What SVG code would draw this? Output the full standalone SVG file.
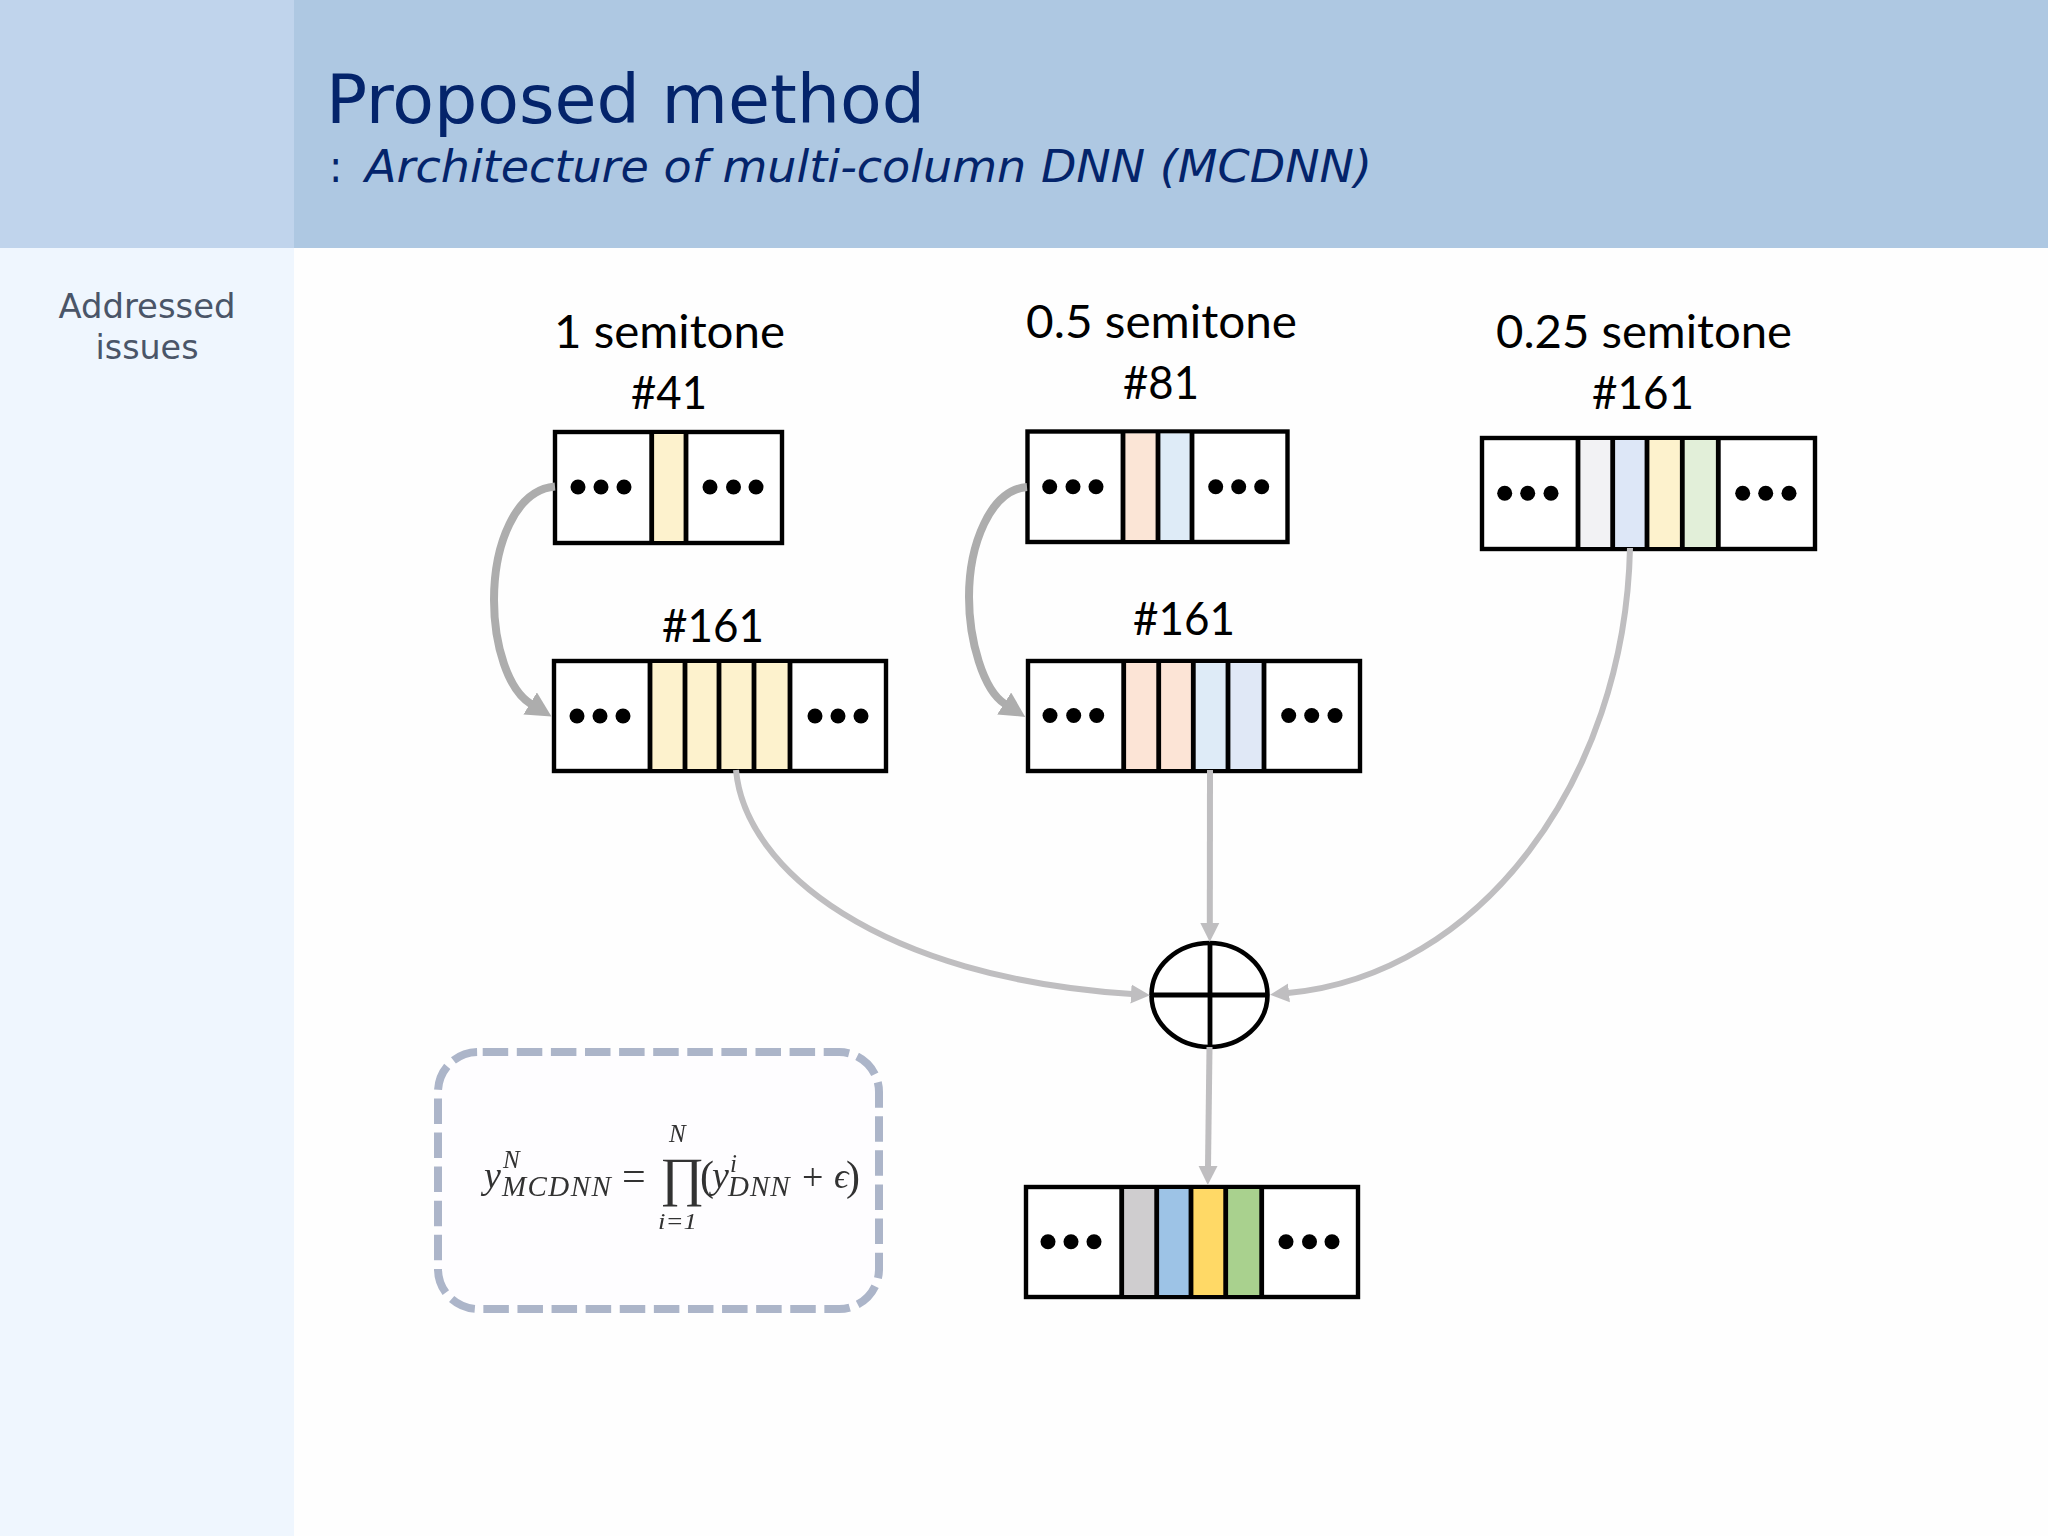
<svg xmlns="http://www.w3.org/2000/svg" width="2048" height="1536" viewBox="0 0 2048 1536">
<style>
.lbl{font-family:"Lato","Liberation Sans",sans-serif;font-size:46px;fill:#000}
.box{fill:#fff;stroke:#000;stroke-width:4.4}
.div{stroke:#000;stroke-width:4.8;fill:none}
.dot{fill:#000}
.thick{fill:none;stroke:#adadad;stroke-width:8}
.thin{fill:none;stroke:#bfbec0;stroke-width:6}
.m{font-family:"Liberation Serif",serif;font-style:italic;fill:#333}
.mr{font-family:"Liberation Serif",serif;font-style:normal;fill:#333}
</style>
<defs>
<marker id="hThick" markerUnits="userSpaceOnUse" markerWidth="26" markerHeight="26" refX="1" refY="13" orient="auto"><path d="M0,0L25,13L0,26Z" fill="#adadad"/></marker>
<marker id="hThin" markerUnits="userSpaceOnUse" markerWidth="20" markerHeight="20" refX="1" refY="10" orient="auto"><path d="M0,0.5L19,10L0,19.5Z" fill="#bfbec0"/></marker>
<filter id="soft" x="-5%" y="-5%" width="110%" height="110%"><feGaussianBlur stdDeviation="0.7"/></filter>
</defs>
<g id="background">
<rect width="2048" height="1536" fill="#fefefe"/>
<rect x="0" y="248" width="294" height="1288" fill="#eff6fe"/>
<rect x="0" y="0" width="294" height="248" fill="#c0d4ec"/>
<rect x="294" y="0" width="1754" height="248" fill="#aec8e2"/>
</g>
<g id="title" fill="#04246b" font-family="'DejaVu Sans',sans-serif" style="font-stretch:condensed">
<text x="326" y="123" font-size="68" textLength="599" lengthAdjust="spacingAndGlyphs">Proposed method</text>
<text x="329" y="182" font-size="44">:</text>
<text x="365" y="182" font-size="44" font-style="italic" textLength="1007" lengthAdjust="spacingAndGlyphs">Architecture of multi-column DNN (MCDNN)</text>
</g>
<g id="sidebar" fill="#4a5568" font-family="'DejaVu Sans',sans-serif" font-size="34" text-anchor="middle" style="font-stretch:condensed">
<text x="147" y="318" textLength="177" lengthAdjust="spacingAndGlyphs">Addressed</text>
<text x="147" y="359" textLength="103" lengthAdjust="spacingAndGlyphs">issues</text>
</g>
<g id="labels" class="lbl" text-anchor="middle">
<text class="lbl" x="669.5" y="348" textLength="231" lengthAdjust="spacingAndGlyphs">1 semitone</text>
<text class="lbl" x="669" y="409" textLength="76" lengthAdjust="spacingAndGlyphs">#41</text>
<text class="lbl" x="713" y="642" textLength="102" lengthAdjust="spacingAndGlyphs">#161</text>
<text class="lbl" x="1161.5" y="338" textLength="271" lengthAdjust="spacingAndGlyphs">0.5 semitone</text>
<text class="lbl" x="1161" y="399" textLength="76" lengthAdjust="spacingAndGlyphs">#81</text>
<text class="lbl" x="1184" y="635" textLength="102" lengthAdjust="spacingAndGlyphs">#161</text>
<text class="lbl" x="1644" y="348" textLength="296" lengthAdjust="spacingAndGlyphs">0.25 semitone</text>
<text class="lbl" x="1643" y="409" textLength="102" lengthAdjust="spacingAndGlyphs">#161</text>
</g>
<g id="node-41">
<rect class="box" x="555" y="432" width="227" height="111"/>
<rect x="652" y="434" width="34" height="107" fill="#fdf2cd"/>
<path class="div" d="M651.7,432V543M686,432V543"/>
<circle class="dot" cx="578" cy="487" r="7.5"/><circle class="dot" cx="601" cy="487" r="7.5"/><circle class="dot" cx="624" cy="487" r="7.5"/>
<circle class="dot" cx="710" cy="487" r="7.5"/><circle class="dot" cx="733.5" cy="487" r="7.5"/><circle class="dot" cx="756" cy="487" r="7.5"/>
</g>
<g id="node-161-a">
<rect class="box" x="554" y="661" width="332" height="110"/>
<rect x="650" y="663" width="140" height="106" fill="#fdf2cd"/>
<path class="div" d="M650,661V771M685,661V771M719,661V771M754,661V771M790,661V771"/>
<circle class="dot" cx="577" cy="716" r="7.5"/><circle class="dot" cx="600" cy="716" r="7.5"/><circle class="dot" cx="623" cy="716" r="7.5"/>
<circle class="dot" cx="815" cy="716" r="7.5"/><circle class="dot" cx="838" cy="716" r="7.5"/><circle class="dot" cx="861" cy="716" r="7.5"/>
</g>
<g id="node-81">
<rect class="box" x="1027.5" y="431.5" width="260" height="110.5"/>
<rect x="1123" y="433.5" width="35" height="106.5" fill="#fbe5d6"/>
<rect x="1158" y="433.5" width="34" height="106.5" fill="#deebf7"/>
<path class="div" d="M1123,431.5V542M1158,431.5V542M1192,431.5V542"/>
<circle class="dot" cx="1049.7" cy="486.7" r="7.5"/><circle class="dot" cx="1073" cy="486.7" r="7.5"/><circle class="dot" cx="1096" cy="486.7" r="7.5"/>
<circle class="dot" cx="1215.7" cy="486.7" r="7.5"/><circle class="dot" cx="1238.7" cy="486.7" r="7.5"/><circle class="dot" cx="1261.7" cy="486.7" r="7.5"/>
</g>
<g id="node-161-b">
<rect class="box" x="1028" y="661" width="332" height="110"/>
<rect x="1124" y="663" width="69" height="106" fill="#fce4d6"/>
<rect x="1193" y="663" width="35" height="106" fill="#deebf7"/>
<rect x="1228" y="663" width="36" height="106" fill="#e0e8f6"/>
<path class="div" d="M1123.7,661V771M1158.7,661V771M1193.3,661V771M1228,661V771M1264,661V771"/>
<circle class="dot" cx="1050" cy="715.5" r="7.5"/><circle class="dot" cx="1073.7" cy="715.5" r="7.5"/><circle class="dot" cx="1096.7" cy="715.5" r="7.5"/>
<circle class="dot" cx="1288.7" cy="715.5" r="7.5"/><circle class="dot" cx="1311.7" cy="715.5" r="7.5"/><circle class="dot" cx="1335" cy="715.5" r="7.5"/>
</g>
<g id="node-161-c">
<rect class="box" x="1482" y="438" width="333" height="111"/>
<rect x="1578" y="440" width="35" height="107" fill="#f2f2f4"/>
<rect x="1613" y="440" width="34" height="107" fill="#dde7f7"/>
<rect x="1647" y="440" width="35" height="107" fill="#fdf2cd"/>
<rect x="1682" y="440" width="36" height="107" fill="#e2efd9"/>
<path class="div" d="M1578,438V549M1612.7,438V549M1647,438V549M1682.3,438V549M1718.3,438V549"/>
<circle class="dot" cx="1504.7" cy="493.3" r="7.5"/><circle class="dot" cx="1527.7" cy="493.3" r="7.5"/><circle class="dot" cx="1551" cy="493.3" r="7.5"/>
<circle class="dot" cx="1742.7" cy="493.3" r="7.5"/><circle class="dot" cx="1765.7" cy="493.3" r="7.5"/><circle class="dot" cx="1789" cy="493.3" r="7.5"/>
</g>
<g id="node-sum">
<ellipse cx="1209.5" cy="995" rx="58" ry="52" fill="#fff" stroke="#000" stroke-width="4.6"/>
<path class="div" d="M1210,943V1047M1151.5,995H1267.5"/>
</g>
<g id="node-output">
<rect class="box" x="1026" y="1187" width="332" height="110"/>
<rect x="1122" y="1189" width="35" height="106" fill="#cfcdcf"/>
<rect x="1157" y="1189" width="34" height="106" fill="#9dc3e6"/>
<rect x="1191" y="1189" width="35" height="106" fill="#ffd966"/>
<rect x="1226" y="1189" width="36" height="106" fill="#a9d18e"/>
<path class="div" d="M1121.7,1187V1297M1156.7,1187V1297M1191,1187V1297M1225.7,1187V1297M1261.7,1187V1297"/>
<circle class="dot" cx="1048" cy="1241.7" r="7.5"/><circle class="dot" cx="1071" cy="1241.7" r="7.5"/><circle class="dot" cx="1094" cy="1241.7" r="7.5"/>
<circle class="dot" cx="1286" cy="1241.7" r="7.5"/><circle class="dot" cx="1309.5" cy="1241.7" r="7.5"/><circle class="dot" cx="1332" cy="1241.7" r="7.5"/>
</g>
<g id="node-formula">
<rect x="438" y="1052" width="441" height="257" rx="40" ry="40" fill="#fefdff" stroke="#acb5c9" stroke-width="8" stroke-dasharray="25.5 8.6" stroke-dashoffset="-4.7"/>
<g filter="url(#soft)">
<text class="m" x="484" y="1188" font-size="38">y<tspan x="503" y="1168" font-size="25">N</tspan><tspan x="502" y="1196" font-size="29" letter-spacing="1.4">MCDNN</tspan><tspan class="mr" x="622" y="1190" font-size="42">=</tspan><tspan class="mr" x="660" y="1195" font-size="54">∏</tspan><tspan class="mr" x="700" y="1190" font-size="42">(</tspan><tspan x="712" y="1188" font-size="38">y</tspan><tspan x="730" y="1172" font-size="25">i</tspan><tspan x="728" y="1196" font-size="29" letter-spacing="1">DNN</tspan><tspan class="mr" x="802" y="1190" font-size="38">+</tspan><tspan x="834" y="1188" font-size="36">ϵ</tspan><tspan class="mr" x="846" y="1190" font-size="42">)</tspan></text>
<text class="m" x="669" y="1142" font-size="25">N</text>
<text class="m" x="658" y="1229" font-size="24" textLength="39" lengthAdjust="spacingAndGlyphs">i=1</text>
</g>
</g>
<g id="connectors">
<path class="thick" marker-end="url(#hThick)" d="M555,486.5C515,490 494,545 494,600C494,645 508,690 531,704"/>
<path class="thick" marker-end="url(#hThick)" d="M1027,487C990,490 969,545 969,597C969,640 983,690 1005,704"/>
<path class="thin" marker-end="url(#hThin)" d="M736,770C745,870 880,978 1132,994"/>
<path class="thin" marker-end="url(#hThin)" d="M1210,770L1209.8,924"/>
<path class="thin" marker-end="url(#hThin)" d="M1630,548C1625,780 1480,975 1288,993"/>
<path class="thin" marker-end="url(#hThin)" d="M1209.5,1047L1208,1167"/>
</g>
</svg>
